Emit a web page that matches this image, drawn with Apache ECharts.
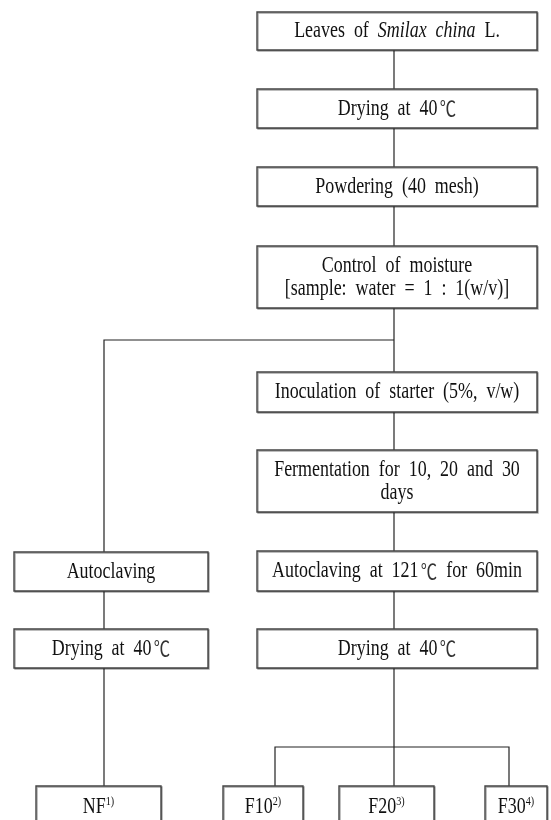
<!DOCTYPE html>
<html>
<head>
<meta charset="utf-8">
<script src="https://cdn.jsdelivr.net/npm/echarts@6/dist/echarts.min.js"></script>
<style>
  html, body { margin: 0; padding: 0; background: #fff; }
  #chart { width: 551px; height: 820px; }
</style>
</head>
<body>
<div id="chart"></div>
<script>
// process steps (rich text: {i|..} italic, {sup|..} superscript, {deg|..} degree sign)
const stepLabels = [
  'Leaves of {i|Smilax china} L.',
  'Drying at 40{deg|℃}',
  'Powdering (40 mesh)',
  'Control of moisture\n[sample: water = 1 : 1(w/v)]',
  'Inoculation of starter (5%, v/w)',
  'Fermentation for 10, 20 and 30\ndays',
  'Autoclaving',
  'Autoclaving at 121{deg|℃} for 60min',
  'Drying at 40{deg|℃}',
  'Drying at 40{deg|℃}',
  'NF{sup|1)}',
  'F10{sup|2)}',
  'F20{sup|3)}',
  'F30{sup|4)}'
]
// box layout in chart units: [left, right, top, bottom]
const stepBoxes = [
  [257, 537, 12, 50],
  [257, 537, 89, 128],
  [257, 537, 167, 206],
  [257, 537, 246, 308],
  [257, 537, 372, 412],
  [257, 537, 450, 512],
  [14, 208, 552, 591],
  [257, 537, 551, 591],
  [14, 208, 629, 668],
  [257, 537, 629, 668],
  [36, 161, 786, 840],
  [223, 303, 786, 840],
  [339, 434, 786, 840],
  [485, 547, 786, 840]
]
// connector paths
const connectors = [
  [[394, 50], [394, 89]],
  [[394, 128], [394, 167]],
  [[394, 206], [394, 246]],
  [[394, 308], [394, 372]],
  [[394, 340], [104, 340], [104, 552]],
  [[394, 412], [394, 450]],
  [[394, 512], [394, 551]],
  [[104, 591], [104, 629]],
  [[394, 591], [394, 629]],
  [[104, 668], [104, 786]],
  [[394, 668], [394, 786]],
  [[275, 786], [275, 747], [509, 747], [509, 786]]
]

const fontFamily = '"Liberation Serif", "Times New Roman", serif'
const widen = (s) => s.replace(/ /g, '  ')

const chart = echarts.init(document.getElementById('chart'))
chart.setOption({
  animation: false,
  grid: { left: 0, right: 0, top: 0, bottom: 0 },
  xAxis: { type: 'value', min: 0, max: 551, show: false },
  yAxis: { type: 'value', min: 0, max: 820, inverse: true, show: false },
  series: [
    {
      type: 'lines',
      coordinateSystem: 'cartesian2d',
      polyline: true,
      silent: true,
      lineStyle: { color: '#222', width: 1.2, opacity: 1 },
      data: connectors.map((coords) => ({ coords }))
    },
    {
      type: 'custom',
      silent: true,
      data: stepBoxes.map((b, i) => [b[0], b[1], b[2], b[3], i]),
      renderItem: (params, api) => {
        const tl = api.coord([api.value(0), api.value(2)])
        const br = api.coord([api.value(1), api.value(3)])
        const idx = api.value(4)
        const w = br[0] - tl[0]
        const h = br[1] - tl[1]
        const bottomBox = idx >= 10
        const cy = bottomBox ? tl[1] + 21 : tl[1] + h / 2
        return {
          type: 'group',
          children: [
            {
              type: 'rect',
              shape: { x: tl[0], y: tl[1], width: w, height: h },
              style: {
                fill: '#fff',
                stroke: '#444',
                lineWidth: 1.4,
                shadowColor: 'rgba(0,0,0,0.35)',
                shadowOffsetX: 1,
                shadowOffsetY: 1
              }
            },
            {
              type: 'text',
              x: tl[0] + w / 2,
              y: cy,
              scaleX: 0.78,
              style: {
                text: widen(stepLabels[idx]),
                fill: '#111',
                font: '23px ' + fontFamily,
                align: 'center',
                verticalAlign: 'middle',
                lineHeight: 23,
                rich: {
                  i: { fontStyle: 'italic', fontSize: 23, fontFamily: fontFamily, fill: '#111' },
                  deg: { fontSize: 21, fontFamily: '"Noto Sans CJK KR"', fontWeight: 'normal', fill: '#333', padding: [0, 0, 0, 3] },
                  sup: { fontSize: 13, fontFamily: fontFamily, fill: '#111', verticalAlign: 'top', padding: [0, 0, 10, 0] }
                }
              }
            }
          ]
        }
      }
    }
  ]
})
</script>
</body>
</html>
